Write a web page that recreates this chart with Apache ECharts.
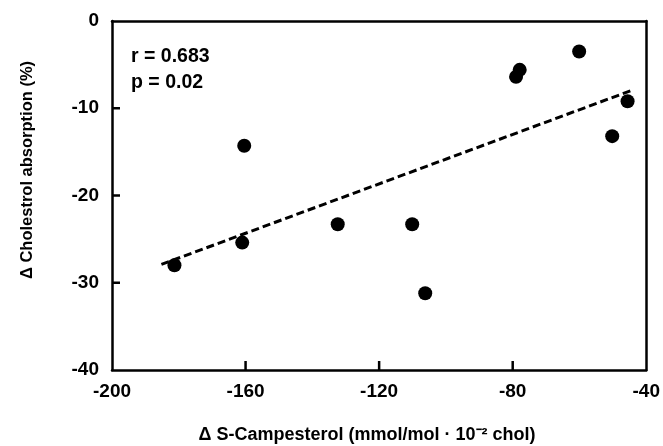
<!DOCTYPE html>
<html>
<head>
<meta charset="utf-8">
<script src="https://cdn.jsdelivr.net/npm/echarts@6/dist/echarts.min.js"></script>
<style>
html,body{margin:0;padding:0;background:#fff;}
#chart{width:663px;height:446px;}
</style>
</head>
<body>
<div id="chart"></div>
<script>
// Data
var xValues = [-181.3, -161, -160.4, -132.4, -110.1, -106.2, -79, -77.9, -60.1, -45.6, -50.2];
var yValues = [-28.0, -25.4, -14.3, -23.3, -23.3, -31.2, -6.4, -5.6, -3.5, -9.2, -13.2];
var fitX = [-185.2, -44.0];
var fitY = [-27.9, -7.9];
var xTicks = [-200, -160, -120, -80, -40];
var yTicks = [0, -10, -20, -30, -40];
var statsText = ['r = 0.683', 'p = 0.02'];
var xTitle = '\u0394 S-Campesterol (mmol/mol \u00b7 10\u207b\u00b2 chol)';
var yTitle = '\u0394 Cholestrol absorption (%)';

var points = xValues.map(function (x, i) { return [x, yValues[i]]; });
var fitLine = fitX.map(function (x, i) { return [x, fitY[i]]; });

var FONT = 'Liberation Sans, Arial, sans-serif';
var xMin = xTicks[0], xMax = xTicks[xTicks.length - 1];
var yMin = yTicks[yTicks.length - 1], yMax = yTicks[0];
function ls() { return {color: '#000', width: 2.5}; }

// inner tick marks, positioned through the axes' scales
var xTickData = xTicks.slice(1, -1).map(function (v) { return [v, yMin]; });
var yTickData = yTicks.slice(1, -1).map(function (v) { return [xMin, v]; });

var chart = echarts.init(document.getElementById('chart'), null, {renderer: 'canvas'});
chart.setOption({
  animation: false,
  backgroundColor: '#fff',
  grid: {left: 112, top: 21, right: 13, bottom: 76},
  xAxis: [{
    type: 'value', min: xMin, max: xMax, interval: 40, position: 'bottom',
    axisLine: {show: true, onZero: false, lineStyle: ls()},
    axisTick: {show: false},
    splitLine: {show: false},
    axisLabel: {color: '#000', fontFamily: FONT, fontWeight: 'bold', fontSize: 19, margin: 12}
  }, {
    type: 'value', min: xMin, max: xMax, interval: 40, position: 'top',
    axisLine: {show: true, onZero: false, lineStyle: ls()},
    axisTick: {show: false}, axisLabel: {show: false}, splitLine: {show: false}
  }],
  yAxis: [{
    type: 'value', min: yMin, max: yMax, interval: 10, position: 'left',
    axisLine: {show: true, onZero: false, lineStyle: ls()},
    axisTick: {show: false},
    splitLine: {show: false},
    axisLabel: {color: '#000', fontFamily: FONT, fontWeight: 'bold', fontSize: 19, margin: 13}
  }, {
    type: 'value', min: yMin, max: yMax, interval: 10, position: 'right',
    axisLine: {show: true, onZero: false, lineStyle: ls()},
    axisTick: {show: false}, axisLabel: {show: false}, splitLine: {show: false}
  }],
  series: [
    {
      type: 'custom', data: xTickData, xAxisIndex: 0, yAxisIndex: 0, silent: true, clip: false, z: 5,
      renderItem: function (params, api) {
        var p = api.coord([api.value(0), api.value(1)]);
        return {type: 'line', shape: {x1: p[0], y1: p[1], x2: p[0], y2: p[1] - 9}, style: {stroke: '#000', lineWidth: 2.5}};
      }
    },
    {
      type: 'custom', data: yTickData, xAxisIndex: 0, yAxisIndex: 0, silent: true, clip: false, z: 5,
      renderItem: function (params, api) {
        var p = api.coord([api.value(0), api.value(1)]);
        return {type: 'line', shape: {x1: p[0], y1: p[1], x2: p[0] + 8, y2: p[1]}, style: {stroke: '#000', lineWidth: 2.5}};
      }
    },
    {
      type: 'line', data: fitLine, symbol: 'none', xAxisIndex: 0, yAxisIndex: 0,
      lineStyle: {color: '#000', width: 3, type: [8, 4]}
    },
    {
      type: 'scatter', data: points, symbol: 'circle', symbolSize: 14, xAxisIndex: 0, yAxisIndex: 0,
      itemStyle: {color: '#000', opacity: 1}
    }
  ],
  graphic: [
    {type: 'text', left: 131, top: 47, style: {text: statsText[0], fill: '#000', font: 'bold 19.5px ' + FONT}},
    {type: 'text', left: 131, top: 73, style: {text: statsText[1], fill: '#000', font: 'bold 19.5px ' + FONT}},
    {type: 'text', x: 367, y: 435, style: {text: xTitle, fill: '#000', font: 'bold 18px ' + FONT, textAlign: 'center', textVerticalAlign: 'middle'}},
    {type: 'text', x: 27, y: 170, rotation: Math.PI / 2, style: {text: yTitle, fill: '#000', font: 'bold 16.5px ' + FONT, textAlign: 'center', textVerticalAlign: 'middle'}}
  ]
});
</script>
</body>
</html>
